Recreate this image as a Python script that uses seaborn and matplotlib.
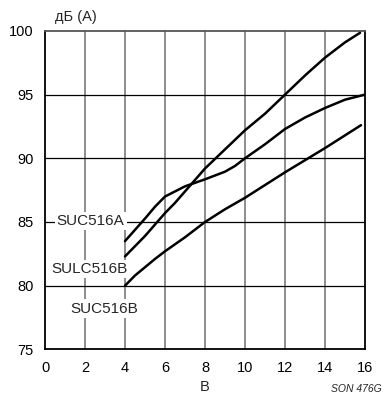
import matplotlib
matplotlib.use("Agg")
import matplotlib.pyplot as plt
import seaborn as sns
import pandas as pd

# Data
suc516a_x = [4, 5, 5.5, 6, 6.5, 7, 8, 9, 9.5, 10, 11, 12, 13, 14, 15, 16]
suc516a_y = [83.5, 85.27, 86.2, 87.0, 87.4, 87.8, 88.35, 88.95, 89.4, 90.0, 91.1, 92.3, 93.2, 93.95, 94.6, 95.0]

sulc516b_x = [4, 5, 6, 6.5, 7, 8, 9, 10, 11, 12, 13, 14, 15, 15.75]
sulc516b_y = [82.3, 83.9, 85.7, 86.5, 87.4, 89.2, 90.7, 92.2, 93.5, 95.0, 96.5, 97.9, 99.1, 99.85]

suc516b_x = [4, 4.5, 5, 5.5, 6, 6.5, 7, 8, 9, 10, 12, 14, 15.8]
suc516b_y = [80.0, 80.8, 81.45, 82.1, 82.7, 83.25, 83.8, 85.0, 86.0, 86.9, 88.9, 90.8, 92.6]

series_names = ["SUC516A", "SULC516B", "SUC516B"]
label_pos = [(2.28, 85.1), (2.23, 81.3), (2.95, 78.2)]

x_ticks = [0, 2, 4, 6, 8, 10, 12, 14, 16]
y_ticks = [75, 80, 85, 90, 95, 100]
y_unit = "дБ (A)"
x_unit = "B"
code = "SON 476G"

sns.set_style("white")
plt.rcParams["font.family"] = ["Liberation Sans", "DejaVu Sans"]

fig = plt.figure(figsize=(3.83, 3.94), dpi=100)
ax = fig.add_axes([45 / 383, 1 - 349.4 / 394, 320 / 383, 318.5 / 394])

frames = []
for name, xs, ys in zip(series_names,
                        [suc516a_x, sulc516b_x, suc516b_x],
                        [suc516a_y, sulc516b_y, suc516b_y]):
    frames.append(pd.DataFrame({"x": xs, "y": ys, "series": name}))
df = pd.concat(frames, ignore_index=True)

for name in series_names:
    sns.lineplot(data=df[df["series"] == name], x="x", y="y", ax=ax,
                 color="black", linewidth=1.8, sort=False, legend=False, zorder=3)

ax.set_xlim(0, 16)
ax.set_ylim(75, 100)
ax.set_xticks(x_ticks)
ax.set_yticks(y_ticks)
ax.tick_params(axis="both", length=0, pad=8, labelsize=10.5, colors="black")
ax.set_xlabel("")
ax.set_ylabel("")

for xv in x_ticks[1:-1]:
    ax.axvline(xv, color="#7a7a7a", linewidth=1.2, zorder=1)
for yv in y_ticks[1:-1]:
    ax.axhline(yv, color="black", linewidth=0.9, zorder=1)

for side in ["left", "bottom", "right"]:
    ax.spines[side].set_color("black")
    ax.spines[side].set_linewidth(1.3)
ax.spines["top"].set_color("#555555")
ax.spines["top"].set_linewidth(1.3)

for name, (lx, ly) in zip(series_names, label_pos):
    ax.text(lx, ly, name, ha="center", va="center", fontsize=11, zorder=4,
            bbox=dict(facecolor="white", edgecolor="none", pad=1.5))

fig.text(55 / 383, 1 - 17 / 394, y_unit, ha="left", va="center", fontsize=10.5)
fig.text(205 / 383, 1 - 387 / 394, x_unit, ha="center", va="center", fontsize=10.5)
fig.text(382 / 383, 1 - 389 / 394, code, ha="right", va="center", fontsize=7.5,
         style="italic")

fig.savefig("out.png", dpi=100)
